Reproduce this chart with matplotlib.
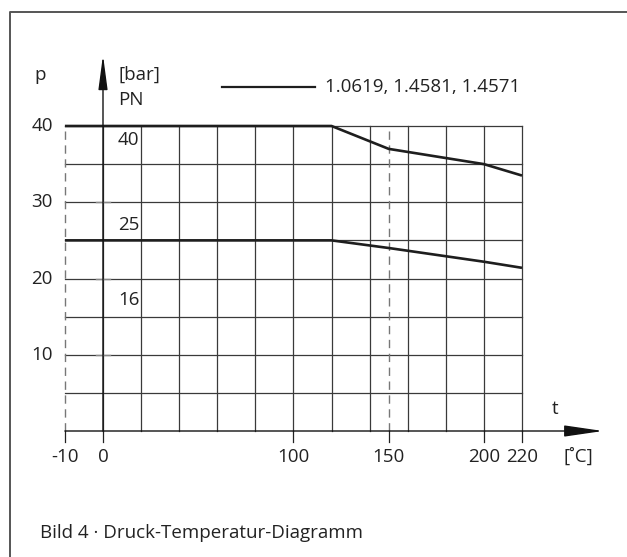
import matplotlib.pyplot as plt
from matplotlib.lines import Line2D

plt.rcParams['font.family'] = ['Open Sans', 'DejaVu Sans']
FS = 13.5

# data
t_upper = [-10, 120, 140, 150, 200, 220]
p_upper = [40, 40, 38, 37, 35, 33.5]
t_lower = [-10, 120, 150, 200, 220]
p_lower = [25, 25, 24, 22.2, 21.4]
grid_t = [0, 20, 40, 60, 80, 100, 120, 140, 160, 180, 200, 220]
grid_p = [5, 10, 15, 20, 25, 30, 35, 40]
x_ticks = [-10, 0, 100, 150, 200, 220]
y_ticks = [10, 20, 30, 40]
pn_labels = [(40, 38.2), (25, 27.0), (16, 17.2)]
legend_text = "1.0619, 1.4581, 1.4571"
caption = "Bild 4 \u00b7 Druck-Temperatur-Diagramm"


def pos(t):
    # the scale is compressed below zero: -10 sits one grid step left of 0
    return t if t >= 0 else 2 * t


W, H = 627, 557
fig = plt.figure(figsize=(W / 100, H / 100), dpi=100)
ax = fig.add_axes([0, 0, 1, 1])
px_x = (522 - 103) / 220
px_y = (431 - 126) / 40
ax.set_xlim(-103 / px_x, (W - 103) / px_x)
ax.set_ylim((431 - H) / px_y, 431 / px_y)
ax.axis('off')

# outer frame
fig.add_artist(Line2D([10 / W, 10 / W, 1], [0, 1 - 12 / H, 1 - 12 / H],
                      color='#555555', lw=1.4))

x0 = pos(-10)
grid_c = '#3a3a3a'
for p in grid_p:
    ax.plot([x0, 220], [p, p], color=grid_c, lw=0.9)
for t in grid_t:
    ax.plot([pos(t), pos(t)], [0, 40], color=grid_c, lw=0.9)
for t in (-10, 150):
    ax.plot([pos(t), pos(t)], [0, 40], color='#777777', lw=1.0,
            dashes=(6, 4))

# axes with arrows
ax.annotate('', xy=(262.5, 0), xytext=(x0, 0),
            arrowprops=dict(arrowstyle='-|>,head_length=2.4,head_width=0.35',
                            mutation_scale=10, color='#111111', lw=1.0,
                            shrinkA=0, shrinkB=0))
ax.annotate('', xy=(0, 49.3), xytext=(0, 0),
            arrowprops=dict(arrowstyle='-|>,head_length=2.1,head_width=0.28',
                            mutation_scale=10, color='#111111', lw=1.0,
                            shrinkA=0, shrinkB=0))
for t in x_ticks:
    ax.plot([pos(t), pos(t)], [0, -1.45], color='#222222', lw=0.9)
    ax.text(pos(t), -3.4, str(t), ha='center', va='center', fontsize=FS,
            color='#222222')
for p in y_ticks:
    if p < 40:
        ax.plot([-3.7, 3.7], [p, p], color='#888888', lw=1.0)
    ax.text(-32, p, str(p), ha='center', va='center', fontsize=FS,
            color='#222222')

# curves
ax.plot([pos(t) for t in t_upper], p_upper, color='#1e1e1e', lw=1.9,
        solid_capstyle='butt')
ax.plot([pos(t) for t in t_lower], p_lower, color='#1e1e1e', lw=1.9,
        solid_capstyle='butt')

# labels
ax.text(-33, 46.7, 'p', ha='center', va='center', fontsize=FS, color='#222222')
ax.text(7.9, 46.7, '[bar]', ha='left', va='center', fontsize=FS, color='#222222')
ax.text(7.9, 43.4, 'PN', ha='left', va='center', fontsize=FS, color='#222222')
for lab, y in pn_labels:
    ax.text(7.9, y, str(lab), ha='left', va='center', fontsize=FS,
            color='#222222')
ax.plot([62.5, 111.3], [45.1, 45.1], color='#1e1e1e', lw=1.6)
ax.text(116.6, 45.1, legend_text, ha='left', va='center', fontsize=FS,
        color='#222222')
ax.text(237.3, 2.9, 't', ha='center', va='center', fontsize=FS, color='#222222')
ax.text(249.5, -3.4, '[\u02daC]', ha='center', va='center', fontsize=FS,
        color='#222222')
ax.text(-33, -13.4, caption, ha='left', va='center', fontsize=FS,
        color='#222222')

fig.savefig('out.png', dpi=100)
